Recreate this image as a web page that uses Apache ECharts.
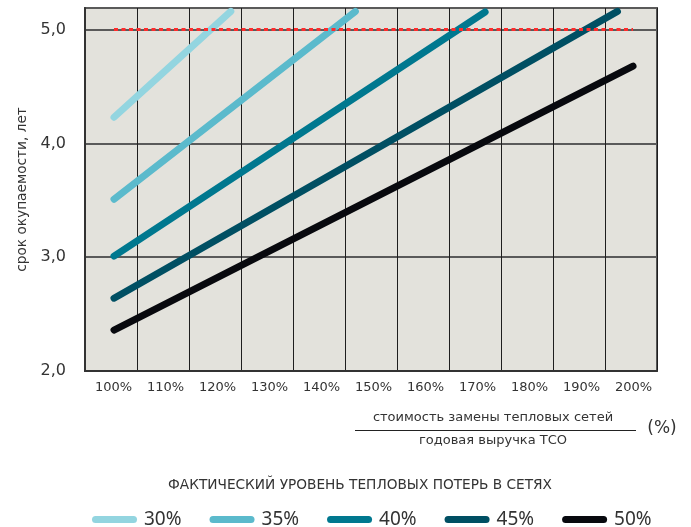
<!DOCTYPE html>
<html>
<head>
<meta charset="utf-8">
<script src="https://cdn.jsdelivr.net/npm/echarts@6/dist/echarts.min.js"></script>
<style>
  html, body { margin: 0; padding: 0; background: #ffffff; }
  #chart { width: 691px; height: 527px; }
</style>
</head>
<body>
<div id="chart"></div>
<script>
// Ratio of network replacement cost to annual revenue (category ticks)
const shareLabels = ['100%', '110%', '120%', '130%', '140%', '150%', '160%', '170%', '180%', '190%', '200%'];

// Actual heat loss levels in the networks (one line each)
const lossLevels = ['30%', '35%', '40%', '45%', '50%'];
const lossColors = ['#93d5e0', '#5bbacc', '#00788f', '#004f63', '#08090e'];

// Each line: start and end point [share %, payback years]
const shareStart = [100, 100, 100, 100, 100];
const paybackStart = [4.23, 3.51, 3.01, 2.64, 2.36];
const shareEnd = [122.5, 146.5, 171.5, 197, 200];
const paybackEnd = [5.16, 5.16, 5.155, 5.16, 4.68];

// Payback threshold (5 years)
const thresholdShare = [100, 200];
const thresholdYears = 5;

const fontFamily = '"DejaVu Sans", Verdana, sans-serif';
const legendFont = '"Noto Sans", "Open Sans", sans-serif';

const chart = echarts.init(document.getElementById('chart'), null, { renderer: 'canvas' });

const lineSeries = lossLevels.map((name, i) => ({
  name: name,
  type: 'line',
  xAxisIndex: 1,
  yAxisIndex: 0,
  data: [[shareStart[i], paybackStart[i]], [shareEnd[i], paybackEnd[i]]],
  showSymbol: false,
  clip: false,
  z: 3,
  lineStyle: { color: lossColors[i], width: 7, cap: 'round' },
  itemStyle: { color: lossColors[i] },
  emphasis: { disabled: true }
}));

const thresholdSeries = {
  name: 'threshold',
  type: 'line',
  xAxisIndex: 1,
  yAxisIndex: 0,
  data: thresholdShare.map(x => [x, thresholdYears]),
  showSymbol: false,
  z: 4,
  lineStyle: { color: '#ff2b2b', width: 3, type: [4, 3.5] },
  emphasis: { disabled: true }
};

// Capsule-shaped legend marker
const capsule = 'path://M3.5,0 H41.5 A3.5,3.5 0 0 1 41.5,7 H3.5 A3.5,3.5 0 0 1 3.5,0 Z';

chart.setOption({
  animation: false,
  backgroundColor: '#ffffff',
  grid: {
    left: 85, right: 34, top: 8, bottom: 156,
    show: true,
    backgroundColor: '#e3e2dc',
    borderColor: '#555555',
    borderWidth: 2
  },
  xAxis: [
    {
      type: 'category',
      data: shareLabels,
      boundaryGap: true,
      axisLine: { show: true, lineStyle: { color: '#333333', width: 2 } },
      axisTick: { show: false },
      axisLabel: {
        color: '#333333', fontSize: 13, fontFamily: fontFamily,
        margin: 10, padding: [0, 0, 0, 5]
      },
      splitLine: { show: true, lineStyle: { color: '#1e1e1e', width: 1 } }
    },
    {
      type: 'value',
      min: 94.41,
      max: 204.62,
      show: false,
      splitLine: { show: false }
    }
  ],
  yAxis: {
    type: 'value',
    min: 2,
    max: 5.19,
    interval: 1,
    name: 'срок окупаемости, лет',
    nameLocation: 'middle',
    nameRotate: 90,
    nameGap: 52,
    nameTextStyle: { color: '#333333', fontSize: 13.7, fontFamily: fontFamily },
    axisLine: { show: true, lineStyle: { color: '#333333', width: 2 } },
    axisTick: { show: false },
    axisLabel: {
      color: '#333333', fontSize: 16, fontFamily: fontFamily, margin: 19,
      formatter: v => (Math.abs(v - Math.round(v)) < 1e-6 ? v.toFixed(1).replace('.', ',') : '')
    },
    splitLine: { show: true, lineStyle: { color: '#5a5a5a', width: 2 } }
  },
  legend: {
    data: lossLevels,
    left: 87,
    top: 505,
    itemWidth: 45,
    itemHeight: 7,
    itemGap: 28,
    icon: capsule,
    selectedMode: false,
    textStyle: { color: '#333333', fontSize: 19, fontFamily: legendFont, padding: [0, 0, 0, 2] }
  },
  graphic: [
    {
      type: 'text',
      x: 493, y: 418,
      style: {
        text: 'стоимость замены тепловых сетей',
        fill: '#333333', font: '13px ' + fontFamily,
        align: 'center', verticalAlign: 'middle'
      }
    },
    {
      type: 'line',
      shape: { x1: 355, y1: 430.5, x2: 636, y2: 430.5 },
      style: { stroke: '#222222', lineWidth: 1 }
    },
    {
      type: 'text',
      x: 493, y: 441,
      style: {
        text: 'годовая выручка ТСО',
        fill: '#333333', font: '13px ' + fontFamily,
        align: 'center', verticalAlign: 'middle'
      }
    },
    {
      type: 'text',
      x: 662, y: 429,
      style: {
        text: '(%)',
        fill: '#333333', font: '17px ' + fontFamily,
        align: 'center', verticalAlign: 'middle'
      }
    },
    {
      type: 'text',
      x: 360, y: 485,
      style: {
        text: 'ФАКТИЧЕСКИЙ УРОВЕНЬ ТЕПЛОВЫХ ПОТЕРЬ В СЕТЯХ',
        fill: '#333333', font: '13.7px ' + fontFamily,
        align: 'center', verticalAlign: 'middle'
      }
    }
  ],
  series: lineSeries.concat([thresholdSeries])
});
</script>
</body>
</html>
